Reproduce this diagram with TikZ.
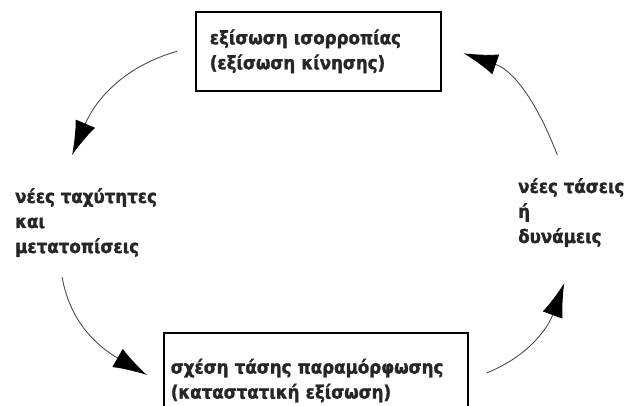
\documentclass[tikz,border=0pt]{standalone}
\usepackage{fontspec}
\setmainfont{DejaVu Sans Condensed}[BoldFont={DejaVu Sans Condensed Bold},BoldFeatures={FakeBold=1.6}]
\usetikzlibrary{arrows.meta}
\begin{document}
\begin{tikzpicture}[x=1pt,y=1pt,
    txt/.style={font=\bfseries\fontsize{18.5}{25}\selectfont,align=left,inner sep=0pt,text=black!85},
    box/.style={txt,draw=black,line width=1.6pt,anchor=north west,text width=#1},
    arr/.style={-{Latex[length=34pt,width=21pt,color=black]},line width=0.9pt,black!70}]
    \useasboundingbox (0,0) rectangle (630,405);

    \node [box=217pt,inner xsep=14pt,inner ysep=17pt,minimum width=245pt,minimum height=79pt] (eq) at (195,394)
        {εξίσωση ισορροπίας\\(εξίσωση κίνησης)};
    \node [box=290pt,inner xsep=7pt,inner ysep=26pt] (con) at (163,73)
        {σχέση τάσης παραμόρφωσης\\(καταστατική εξίσωση)};
    \node [txt,anchor=north west] (vel) at (15,217) {νέες ταχύτητες\\και\\μετατοπίσεις};
    \node [txt,anchor=north west] (str) at (518,227) {νέες τάσεις\\ή\\δυνάμεις};

    % ends of the curved arrows
    \coordinate (a) at ([xshift=-18pt]eq.west);
    \coordinate (b) at ([xshift=-14pt,yshift=33pt]vel.north);
    \coordinate (c) at ([xshift=-24pt,yshift=-20pt]vel.south);
    \coordinate (d) at ([xshift=-16pt,yshift=-43pt]con.north west);
    \coordinate (e) at ([xshift=18pt,yshift=-41pt]con.north east);
    \coordinate (f) at ([xshift=-7pt,yshift=-36pt]str.south);
    \coordinate (g) at ([xshift=-14pt,yshift=23pt]str.north);
    \coordinate (h) at ([xshift=22pt,yshift=-2pt]eq.east);

    \draw [arr] (a) to[out=196,in=67] (b);
    \draw [arr] (c) to[out=-80,in=150] (d);
    \draw [arr] (e) to[out=22,in=-110] (f);
    \draw [arr] (g) to[out=111,in=-19] (h);
\end{tikzpicture}
\end{document}
